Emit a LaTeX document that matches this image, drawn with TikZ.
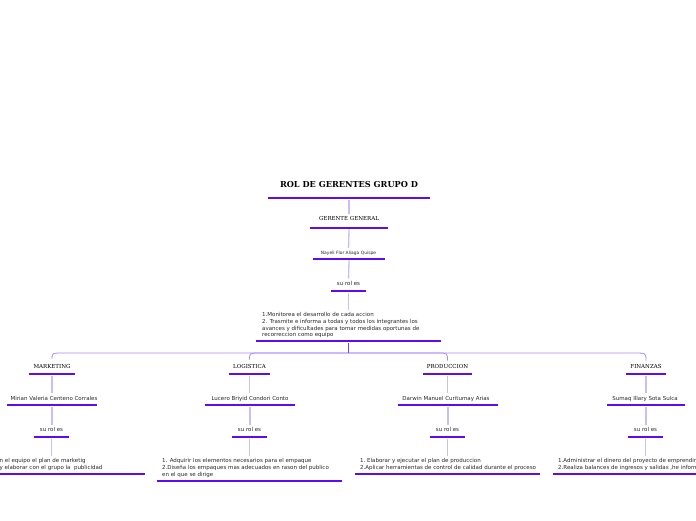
\documentclass[tikz,border=0pt]{standalone}
\usepackage{fontspec}
\usetikzlibrary{calc}
\newfontfamily\dsans{DejaVu Sans}
\newfontfamily\dserif{DejaVu Serif}
\definecolor{barc}{RGB}{92,12,240}
\definecolor{linkc}{RGB}{206,188,250}
\definecolor{splitc}{RGB}{170,138,246}
\definecolor{stemc}{RGB}{120,70,240}
\definecolor{txtc}{RGB}{40,40,40}
\tikzset{
  bar/.style={fill=barc, inner sep=0, minimum height=2.8pt, minimum width=#1},
  small/.style={font=\dsans\fontsize{5.5}{6.7}\selectfont, inner sep=0, text=txtc, anchor=base},
  tiny/.style={font=\dsans\fontsize{4.4}{6}\selectfont, inner sep=0, text=txtc, anchor=base},
  blk/.style={font=\dsans\fontsize{5.5}{6.7}\selectfont, inner sep=0, text=txtc, align=left, anchor=north west},
  head/.style={font=\dserif\fontsize{5.5}{6.5}\selectfont, inner sep=0, text=black, anchor=base},
  ttl/.style={font=\dserif\bfseries\fontsize{8.2}{10}\selectfont, inner sep=0, text=black, anchor=base},
  link/.style={draw=linkc, line width=1.3pt, shorten >=2.5pt},
  branch/.style={draw=splitc, line width=0.8pt},
  stem/.style={draw=stemc, line width=1pt}
}
\begin{document}
\begin{tikzpicture}[x=1pt,y=-1pt]
\useasboundingbox (0,0) rectangle (696,520);
\clip (0,0) rectangle (696,520);
\fill[white] (0,0) rectangle (696,520);
% root column
\node[ttl] (t) at (349,187) {ROL DE GERENTES GRUPO D};
\node[bar=162] (tb) at (349,198) {};
\node[head] (gg) at (349,220.5) {GERENTE GENERAL};
\node[bar=78] (ggb) at (349,228) {};
\node[tiny] (ny) at (348.5,254) {Nayeli Flor Aliaga Quispe};
\node[bar=72] (nyb) at (349,259) {};
\node[small] (rl) at (348.5,285.5) {su rol es};
\node[bar=35] (rlb) at (348.5,291) {};
\node[blk] (rt) at (262,312.3) {1.Monitorea el desarrollo de cada accion\\2. Trasmite e informa a todas y todos los integrantes los\\avances y dificultades para tomar medidas oportunas de\\recorreccion como equipo};
\node[bar=185] (rtb) at (348.5,341) {};
\draw[link] (tb.south) -- (gg.north);
\draw[link] (ggb.south) -- (ny.north);
\draw[link] (nyb.south) -- (rl.north);
\draw[link] (rlb.south) -- (rlb.south |- rt.north);
% marketing
\node[head] (mk) at (52,368) {MARKETING};
\node[bar=46] (mkb) at (52,374) {};
\node[small] (mkn) at (54,400) {Mirian Valeria Centeno Corrales};
\node[bar=90] (mknb) at (52,405) {};
\node[small] (mkr) at (51.5,431.5) {su rol es};
\node[bar=35] (mkrb) at (51.5,437) {};
\node[blk] (mkt) at (-0.5,458.3) {n el equipo el plan de marketig\\y elaborar con el grupo la\ \ publicidad};
\node[bar=186] (mktb) at (52,474) {};
% logistica
\node[head] (lg) at (249.5,368) {LOGISTICA};
\node[bar=41] (lgb) at (249.5,374) {};
\node[small] (lgn) at (250,400) {Lucero Briyid Condori Conto};
\node[bar=90] (lgnb) at (250,405) {};
\node[small] (lgr) at (249.5,431.5) {su rol es};
\node[bar=35] (lgrb) at (249.5,437) {};
\node[blk] (lgt) at (162,458.3) {1. Adquirir los elementos necesarios para el empaque\\2.Diseña los empaques mas adecuados en rason del publico\\en el que se dirige};
\node[bar=185] (lgtb) at (249.5,481) {};
% produccion
\node[head] (pr) at (447.5,368) {PRODUCCION};
\node[bar=49] (prb) at (447.5,374) {};
\node[small] (prn) at (446,400) {Darwin Manuel Curitumay Arias};
\node[bar=100] (prnb) at (448,405) {};
\node[small] (prr) at (447.5,431.5) {su rol es};
\node[bar=35] (prrb) at (447.5,437) {};
\node[blk] (prt) at (360,458.3) {1.\ Elaborar y ejecutar el plan de produccion\\2.Aplicar herramientas de control de calidad durante el proceso};
\node[bar=185] (prtb) at (447.5,474) {};
% finanzas
\node[head] (fi) at (646,368) {FINANZAS};
\node[bar=40] (fib) at (646,374) {};
\node[small] (fin) at (645,400) {Sumaq Illary Sota Sulca};
\node[bar=78] (finb) at (646,405) {};
\node[small] (fir) at (645.5,431.5) {su rol es};
\node[bar=35] (firb) at (645.5,437) {};
\node[blk] (fit) at (558,458.3) {1.Administrar el dinero del proyecto de emprendim\\2.Realiza balances de ingresos y salidas ,he inform};
\node[bar=186] (fitb) at (646,474) {};
% child links
\foreach \a/\b/\c/\d/\e/\f/\g in {mk/mkb/mkn/mknb/mkr/mkrb/mkt, lg/lgb/lgn/lgnb/lgr/lgrb/lgt, pr/prb/prn/prnb/prr/prrb/prt, fi/fib/fin/finb/fir/firb/fit}{
  \draw[link] (\b.south) -- (\b.south |- \c.north);
  \draw[link] (\d.south) -- (\d.south |- \e.north);
  \draw[link] (\f.south) -- (\f.south |- \g.north);
}
% split
\coordinate (split) at (348.5,353);
\draw[branch] (split) -- ($(split -| mk.north)+(12pt,0)$) .. controls (split -| mk.north) .. ($(mk.north)+(0,5pt)$);
\draw[branch] (split) -- ($(split -| lg.north)+(10pt,0)$) .. controls (split -| lg.north) .. ($(lg.north)+(0,4pt)$);
\draw[branch] (split) -- ($(split -| pr.north)+(-10pt,0)$) .. controls (split -| pr.north) .. ($(pr.north)+(0,3pt)$);
\draw[branch] (split) -- ($(split -| fi.north)+(-12pt,0)$) .. controls (split -| fi.north) .. ($(fi.north)+(0,3pt)$);
\draw[stem] (rtb.south) -- (split);
\end{tikzpicture}
\end{document}
